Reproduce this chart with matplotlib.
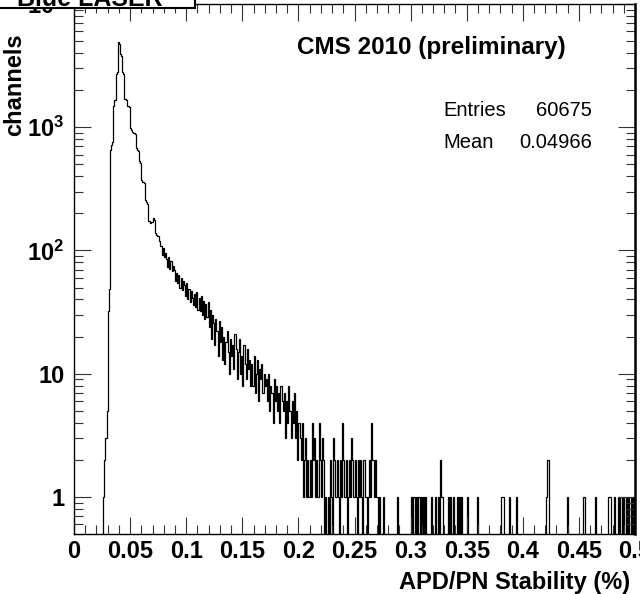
import numpy as np
import matplotlib
matplotlib.use("Agg")
import matplotlib.pyplot as plt
from matplotlib.patches import Rectangle
from matplotlib.ticker import FixedLocator, MultipleLocator, LogLocator, NullFormatter

plt.rcParams["font.family"] = ["Liberation Sans", "DejaVu Sans"]
plt.rcParams["mathtext.fontset"] = "custom"
plt.rcParams["mathtext.rm"] = "Liberation Sans:bold"
plt.rcParams["mathtext.bf"] = "Liberation Sans:bold"
plt.rcParams["mathtext.default"] = "bf"

# histogram: 0.001 wide bins
bin_width = 0.001
first_bin = 0.026
peak_counts = [
    1, 2, 3, 5, 32, 49,
    650, 720, 760, 1500, 1650, 2700, 2800,
    4900, 4700, 3900, 3750, 2800, 2700, 1700,
    1650, 1500, 1480, 1450, 980, 950, 920, 900, 880,
    680, 650, 640, 530, 510, 370, 360, 350,
    255, 245, 240, 175, 172, 168, 170,
    182, 178, 138, 134, 130, 132, 120,
    108, 92, 104, 88, 95,
    86, 74, 88, 71, 82, 68, 75,
    69, 57, 66, 54, 63, 50, 60, 48, 56,
    52, 43, 54, 40, 49, 38, 47, 41, 36,
    44, 35, 46, 33, 41, 32, 43, 30, 39, 28, 37,
    29, 38, 24, 33, 19, 30, 26, 17, 28,
    22, 14, 27, 18, 24, 13,
    20, 12, 18, 22, 15, 10, 19, 14, 17, 11, 21, 16, 9,
    15, 19, 10, 14, 8, 17, 12, 9, 16, 11, 13, 8,
    12, 8, 14, 7, 10, 13, 6, 11, 9, 12, 7, 10, 8,
    9, 6, 10, 5, 8, 7, 4, 9, 6, 8, 5, 7, 4, 8, 6,
    5, 7, 3, 6, 4, 8, 5, 3, 6, 4, 7, 3, 5, 2, 4,
    3, 2, 4, 1, 2, 3, 1, 2, 1, 2, 1, 4, 2, 3, 1, 2, 1, 4, 2, 1, 3, 2, 0, 1, 0,
    1, 0, 2, 1, 0, 3, 2, 1, 2, 1, 0, 2, 1, 4, 2, 1, 2, 0, 1, 2, 1, 3, 2, 1, 2,
    1, 0, 2, 1, 2, 1, 0, 2, 1, 1, 0, 1, 2, 1, 4, 2, 1, 2, 1, 1, 0, 1, 0, 0, 1,
]
tail_x = [0.288, 0.300, 0.302, 0.303, 0.305, 0.307, 0.309, 0.311, 0.313, 0.318,
          0.322, 0.324, 0.326, 0.327, 0.328, 0.333, 0.335, 0.338, 0.341, 0.343,
          0.345, 0.350, 0.359, 0.381, 0.382, 0.388, 0.394, 0.421, 0.422, 0.439,
          0.454, 0.464, 0.476, 0.477, 0.478, 0.481, 0.485, 0.487, 0.489, 0.492,
          0.494, 0.496, 0.498]
tail_counts = [1, 1, 1, 1, 1, 1, 1, 1, 1, 1,
               1, 1, 2, 1, 1, 1, 1, 1, 1, 1,
               1, 1, 1, 1, 1, 1, 1, 1, 2, 1,
               1, 1, 1, 1, 1, 1, 1, 1, 1, 1,
               1, 1, 1]

xtick_vals = [0, 0.05, 0.1, 0.15, 0.2, 0.25, 0.3, 0.35, 0.4, 0.45, 0.5]
xtick_labels = ["0", "0.05", "0.1", "0.15", "0.2", "0.25", "0.3", "0.35", "0.4", "0.45", "0.5"]
ytick_vals = [1, 10, 100, 1000, 10000]
ytick_labels = ["1", "10", r"$10^{2}$", r"$10^{3}$", r"$10^{4}$"]

edges = np.arange(0, 0.5 + bin_width / 2, bin_width)
counts = np.zeros(len(edges) - 1)
i0 = int(round(first_bin / bin_width))
counts[i0:i0 + len(peak_counts)] = peak_counts
for x, c in zip(tail_x, tail_counts):
    counts[int(round(x / bin_width))] = c
counts = np.where(counts > 0, counts, 0.05)  # empty bins drop to the floor

fig = plt.figure(figsize=(6.4, 5.94), dpi=100)
ax = fig.add_axes([74 / 640, 60 / 594, 561 / 640, 530 / 594])
ax.set_yscale("log")
ax.stairs(counts, edges, baseline=0.05, color="black", lw=0.9)
ax.set_xlim(0, 0.5)
ax.set_ylim(0.5, 1e4)

ax.xaxis.set_major_locator(FixedLocator(xtick_vals))
ax.set_xticklabels(xtick_labels)
ax.xaxis.set_minor_locator(MultipleLocator(0.01))
ax.yaxis.set_major_locator(FixedLocator(ytick_vals))
ax.set_yticklabels(ytick_labels)
ax.yaxis.set_minor_locator(LogLocator(base=10, subs=np.arange(2, 10), numticks=20))
ax.yaxis.set_minor_formatter(NullFormatter())

ax.tick_params(which="both", direction="in", top=True, right=True, width=0.8, color="#333333")
ax.tick_params(which="major", length=12)
ax.tick_params(which="minor", length=6.5)
ax.tick_params(axis="x", labelsize=17, pad=4)
ax.tick_params(axis="y", labelsize=17, pad=7)
for lab in ax.get_xticklabels() + ax.get_yticklabels():
    lab.set_fontweight("bold")
for s in ax.spines.values():
    s.set_linewidth(1.0)
ax.spines["right"].set_linewidth(1.8)

fig.text(297 / 640, 1 - 54 / 594, "CMS 2010 (preliminary)", fontsize=17.5, fontweight="bold",
         ha="left", va="baseline")
fig.text(443 / 640, 1 - 116 / 594, "Entries", fontsize=14.5, ha="left", va="baseline")
fig.text(592 / 640, 1 - 116 / 594, "60675", fontsize=14.5, ha="right", va="baseline")
fig.text(443 / 640, 1 - 148 / 594, "Mean", fontsize=14.5, ha="left", va="baseline")
fig.text(592 / 640, 1 - 148 / 594, "0.04966", fontsize=14.5, ha="right", va="baseline")

fig.text(15 / 640, 1 - 33 / 594, "channels", fontsize=17, fontweight="bold",
         rotation=90, ha="center", va="top")
fig.text(630 / 640, 1 - 589 / 594, "APD/PN Stability (%)", fontsize=17, fontweight="bold",
         ha="right", va="baseline")

# title box, mostly outside the picture
fig.patches.append(Rectangle((-0.05, 1 - 8 / 594), 195 / 640 + 0.05, 0.2, transform=fig.transFigure,
                             facecolor="white", edgecolor="black", lw=1.5, zorder=5))
fig.text(17 / 640, 1 - 6 / 594, "Blue LASER", fontsize=18, fontweight="bold",
         ha="left", va="baseline", zorder=6)

fig.savefig("out.png", dpi=100)
